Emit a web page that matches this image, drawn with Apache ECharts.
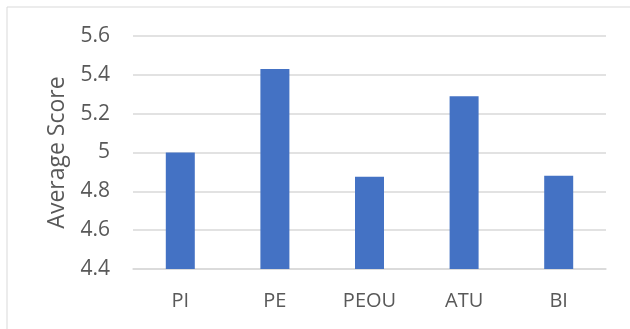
<!DOCTYPE html>
<html>
<head>
<meta charset="utf-8">
<script src="https://cdn.jsdelivr.net/npm/echarts@6/dist/echarts.min.js"></script>
<style>
  html, body { margin: 0; padding: 0; background: #fff; }
  #chart { width: 630px; height: 329px; }
</style>
</head>
<body>
<div id="chart"></div>
<script>
// categories on the x axis
var constructs = ['PI', 'PE', 'PEOU', 'ATU', 'BI']
// average score for each construct
var avgScores = [5.0, 5.43, 4.875, 5.29, 4.88]
// y axis range
var yMin = 4.4
var yMax = 5.6
var yStep = 0.2

var labelColor = '#595959'
var fontFamily = '"Open Sans", "Noto Sans", sans-serif'

var chart = echarts.init(document.getElementById('chart'))
chart.setOption({
  animation: false,
  // outer chart border
  graphic: [{
    type: 'rect',
    shape: { x: 7, y: 7, width: 640, height: 340 },
    style: { fill: 'none', stroke: '#d9d9d9', lineWidth: 1 },
    silent: true
  }],
  grid: { left: 133, right: 24, top: 36, bottom: 60 },
  xAxis: {
    type: 'category',
    data: constructs,
    axisLine: { show: true, lineStyle: { color: '#d9d9d9', width: 1.5 } },
    axisTick: { show: false },
    axisLabel: { color: labelColor, fontSize: 20, fontFamily: fontFamily, margin: 22 }
  },
  yAxis: {
    type: 'value',
    min: yMin,
    max: yMax,
    interval: yStep,
    name: 'Average Score',
    nameLocation: 'middle',
    nameGap: 64,
    nameTextStyle: { color: labelColor, fontSize: 23, fontFamily: fontFamily },
    axisLine: { show: false },
    axisTick: { show: false },
    axisLabel: {
      color: labelColor,
      fontSize: 21,
      fontFamily: fontFamily,
      margin: 23,
      formatter: function (v) { return +v.toFixed(1) + '' }
    },
    splitLine: { lineStyle: { color: '#d9d9d9', width: 1.5 } }
  },
  series: [{
    type: 'bar',
    data: avgScores,
    barWidth: 29,
    itemStyle: { color: '#4472c4' }
  }]
})
</script>
</body>
</html>
